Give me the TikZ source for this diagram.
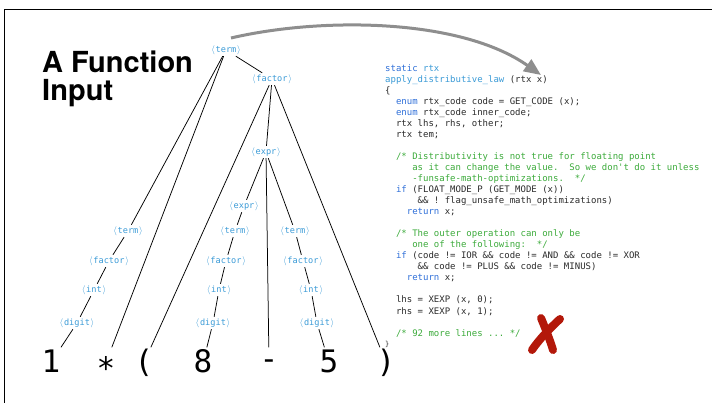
\documentclass[tikz,border=0pt]{standalone}
\usepackage{fontspec}
\usetikzlibrary{arrows.meta}
\newfontfamily\codefam{DejaVu Sans Mono}[WordSpace={1,0,0}]
\newfontfamily\titlefam{TeX Gyre Heros}
\definecolor{kw}{HTML}{2F6FD8}
\definecolor{idf}{HTML}{3A9AD6}
\definecolor{cmt}{HTML}{3BAA3A}
\definecolor{txt}{HTML}{2A2A2A}
\definecolor{ntc}{HTML}{3A9AD6}
\definecolor{arrowgrey}{HTML}{8E8E8E}
\definecolor{xred}{HTML}{B3180A}
\newcommand\ntl[1]{\makebox[0.602em]{$\langle$}#1\makebox[0.602em]{$\rangle$}}
\tikzset{
  nterm/.style={font=\codefam\fontsize{8.6}{10}\selectfont, text=ntc, inner sep=1.5pt},
  leaf/.style={font=\codefam\fontsize{31}{34}\selectfont, text=black, anchor=base,
               text height=23pt, text depth=4pt, inner sep=1.5pt},
  codeline/.style={font=\codefam\fontsize{9}{11}\selectfont\frenchspacing, text=txt,
               anchor=base west, inner sep=0pt},
  treeedge/.style={draw=black, line width=0.75pt},
  titletext/.style={font=\titlefam\bfseries\fontsize{29}{28}\selectfont, anchor=base west, inner sep=0pt},
}
\begin{document}
\begin{tikzpicture}[x=1pt,y=-1pt]
\useasboundingbox (0,0) rectangle (712,403);
% frame (top and left edges)
\draw[line width=1.2pt] (712,9.5) -- (4.5,9.5) -- (4.5,403);

% title
\node[titletext] (title1) at (42,73) {A Function};
\node[titletext] (title2) at (42,101) {Input};

% code listing
\def\cx#1{385+5.418*#1}
\node[codeline] (c0)  at ({\cx{0}},72)  {\textcolor{kw}{static} \textcolor{idf}{rtx}};
\node[codeline] (c1)  at ({\cx{0}},83)  {\textcolor{idf}{apply\_distributive\_law} (rtx x)};
\node[codeline] (c2)  at ({\cx{0}},94)  {\{};
\node[codeline] (c3)  at ({\cx{2}},105) {\textcolor{kw}{enum} rtx\_code code = GET\_CODE (x);};
\node[codeline] (c4)  at ({\cx{2}},116) {\textcolor{kw}{enum} rtx\_code inner\_code;};
\node[codeline] (c5)  at ({\cx{2}},127) {rtx lhs, rhs, other;};
\node[codeline] (c6)  at ({\cx{2}},138) {rtx tem;};
\node[codeline,text=cmt] (c8)  at ({\cx{2}},160) {/* Distributivity is not true for floating point};
\node[codeline,text=cmt] (c9)  at ({\cx{5}},171) {as it can change the value.~~So we don\textquotesingle t do it unless};
\node[codeline,text=cmt] (c10) at ({\cx{5}},182) {-funsafe-math-optimizations.~~*/};
\node[codeline] (c11) at ({\cx{2}},193) {\textcolor{kw}{if} (FLOAT\_MODE\_P (GET\_MODE (x))};
\node[codeline] (c12) at ({\cx{6}},204) {\&\& ! flag\_unsafe\_math\_optimizations)};
\node[codeline] (c13) at ({\cx{4}},215) {\textcolor{kw}{return} x;};
\node[codeline,text=cmt] (c15) at ({\cx{2}},237) {/* The outer operation can only be};
\node[codeline,text=cmt] (c16) at ({\cx{5}},248) {one of the following:~~*/};
\node[codeline] (c17) at ({\cx{2}},259) {\textcolor{kw}{if} (code != IOR \&\& code != AND \&\& code != XOR};
\node[codeline] (c18) at ({\cx{6}},270) {\&\& code != PLUS \&\& code != MINUS)};
\node[codeline] (c19) at ({\cx{4}},281) {\textcolor{kw}{return} x;};
\node[codeline] (c21) at ({\cx{2}},303) {lhs = XEXP (x, 0);};
\node[codeline] (c22) at ({\cx{2}},314) {rhs = XEXP (x, 1);};
\node[codeline,text=cmt] (c24) at ({\cx{2}},336) {/* 92 more lines ... */};
\node[codeline,font=\codefam\fontsize{7}{8}\selectfont] (c25) at ({\cx{0}},346) {\}};

% parse tree labels
\node[nterm] (root) at (226,50)  {\ntl{term}};
\node[nterm] (f0)   at (272,79)  {\ntl{factor}};
\node[nterm] (e0)   at (266,152) {\ntl{expr}};
\node[nterm] (e1)   at (244,206) {\ntl{expr}};
\node[nterm] (t1)   at (128,231) {\ntl{term}};
\node[nterm] (f1)   at (109,261) {\ntl{factor}};
\node[nterm] (i1)   at (94,290)  {\ntl{int}};
\node[nterm] (d1)   at (77,323)  {\ntl{digit}};
\node[nterm] (t2)   at (235,231) {\ntl{term}};
\node[nterm] (f2)   at (226,261) {\ntl{factor}};
\node[nterm] (i2)   at (219,290) {\ntl{int}};
\node[nterm] (d2)   at (213,323) {\ntl{digit}};
\node[nterm] (t3)   at (295,231) {\ntl{term}};
\node[nterm] (f3)   at (303,261) {\ntl{factor}};
\node[nterm] (i3)   at (311,290) {\ntl{int}};
\node[nterm] (d3)   at (317,323) {\ntl{digit}};

% leaves
\node[leaf] (l1)   at (51,372)  {1};
\node[leaf] (lst)  at (106,372) {\raisebox{-7pt}{*}};
\node[leaf] (lpo)  at (144,372) {(};
\node[leaf] (l8)   at (203,372) {8};
\node[leaf] (lmi)  at (269,372) {\raisebox{3pt}{-}};
\node[leaf] (l5)   at (329,372) {5};
\node[leaf] (lpc)  at (386,372) {)};

% tree edges
\path[treeedge] (root) -- (t1);
\path[treeedge] (root) -- (lst);
\path[treeedge] (root) -- (f0);
\path[treeedge] (f0) -- (lpo);
\path[treeedge] (f0) -- (e0);
\path[treeedge] (f0) -- (lpc);
\path[treeedge] (e0) -- (e1);
\path[treeedge] (e0) -- (lmi);
\path[treeedge] (e0) -- (t3);
\path[treeedge] (t1) -- (f1);
\path[treeedge] (f1) -- (i1);
\path[treeedge] (i1) -- (d1);
\path[treeedge] (d1) -- (l1);
\path[treeedge] (e1) -- (t2);
\path[treeedge] (t2) -- (f2);
\path[treeedge] (f2) -- (i2);
\path[treeedge] (i2) -- (d2);
\path[treeedge] (d2) -- (l8);
\path[treeedge] (t3) -- (f3);
\path[treeedge] (f3) -- (i3);
\path[treeedge] (i3) -- (d3);
\path[treeedge] (d3) -- (l5);

% grey arrow from tree to function
\coordinate (arrS) at (231,38);
\coordinate (arrE) at (541,75);
\draw[arrowgrey, line width=3pt, -{Triangle[length=17pt,width=14pt]}]
  (arrS) .. controls (321,17) and (460,18) .. (arrE);

% red cross
\draw[xred, line width=8pt, line cap=round] (541,318) .. controls (546,330) and (550,340) .. (553,350);
\draw[xred, line width=8pt, line cap=round] (560,319) .. controls (548,330) and (538,341) .. (532,350);
\end{tikzpicture}
\end{document}
